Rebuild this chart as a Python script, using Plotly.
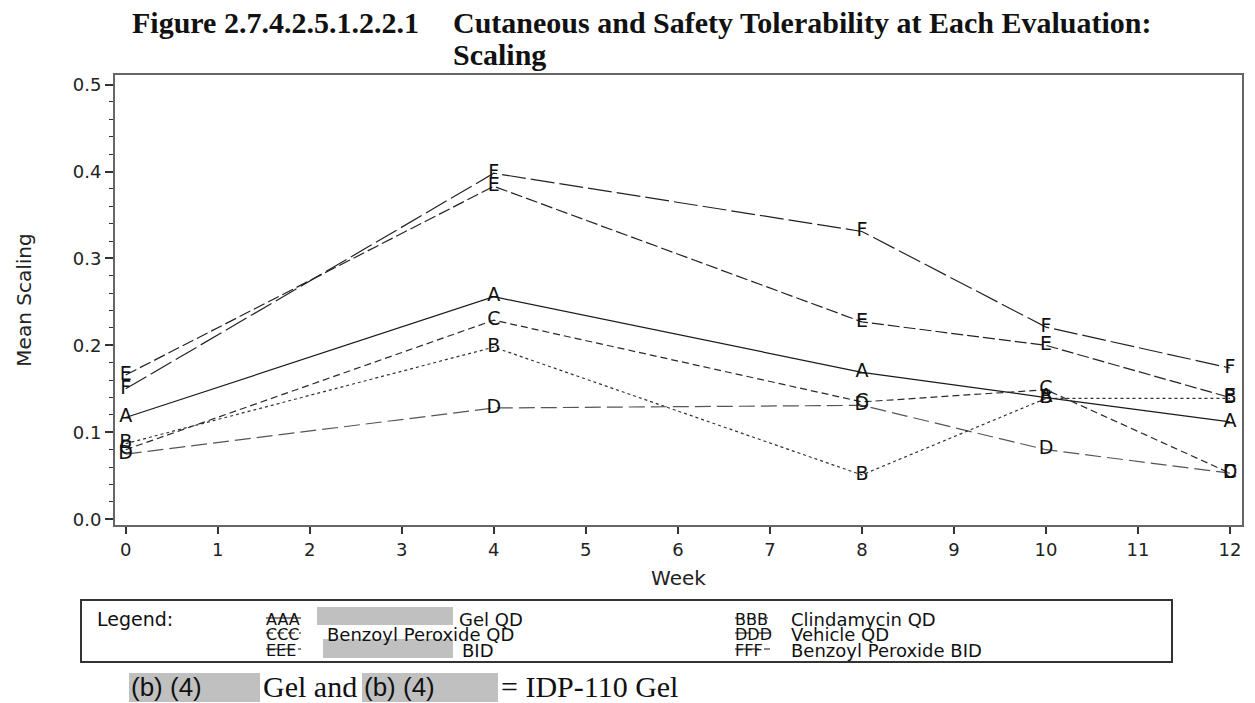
import plotly.graph_objects as go

# ---------------- data ----------------
weeks = [0, 4, 8, 10, 12]
series_names = ["A", "B", "C", "D", "E", "F"]
series_A = [0.117, 0.256, 0.169, 0.140, 0.112]
series_B = [0.087, 0.198, 0.051, 0.139, 0.139]
series_C = [0.080, 0.229, 0.135, 0.149, 0.053]
series_D = [0.075, 0.128, 0.131, 0.080, 0.053]
series_E = [0.166, 0.383, 0.227, 0.200, 0.140]
series_F = [0.150, 0.398, 0.331, 0.221, 0.174]
y_ticks = [0.0, 0.1, 0.2, 0.3, 0.4, 0.5]
x_ticks = list(range(0, 13))

legend_left = [("AAA", "Gel QD"), ("CCC", "Benzoyl Peroxide QD"), ("EEE", "BID")]
legend_right = [("BBB", "Clindamycin QD"), ("DDD", "Vehicle QD"), ("FFF", "Benzoyl Peroxide BID")]

# ---------------- styles ----------------
W, H = 1255, 703
ML, MR, MT, MB = 115, 13, 75, 178
PW, PH = W - ML - MR, H - MT - MB

def px(x):
    return (x - ML) / PW

def py(y):
    return (H - MB - y) / PH

dashes = {
    "A": "solid",
    "B": "3px,3px",
    "C": "7px,4px",
    "D": "16px,6px",
    "E": "12px,4px",
    "F": "24px,5px",
}
colors = {"A": "#1a1a1a", "B": "#333333", "C": "#2a2a2a", "D": "#555555", "E": "#222222", "F": "#222222"}

data = {"A": series_A, "B": series_B, "C": series_C, "D": series_D, "E": series_E, "F": series_F}
draw_order = ["A", "C", "E", "F", "D", "B"]

CHART_FONT = "DejaVu Sans"

fig = go.Figure()
for name in draw_order:
    vals = data[name]
    fig.add_trace(go.Scatter(
        x=weeks, y=vals, mode="lines+text",
        text=[name] * len(vals), textposition="middle center",
        textfont=dict(family=CHART_FONT, size=19, color="#111111"),
        line=dict(color=colors[name], width=1.2, dash=dashes[name]),
        name=name, showlegend=False, cliponaxis=False,
    ))

fig.update_layout(
    width=W, height=H,
    margin=dict(l=ML, r=MR, t=MT, b=MB, pad=0),
    paper_bgcolor="white", plot_bgcolor="white",
    font=dict(family=CHART_FONT, size=18, color="#222222"),
    xaxis=dict(
        range=[-0.116, 12.13], tickvals=x_ticks, ticktext=[str(v) for v in x_ticks],
        showgrid=False, zeroline=False, showline=True, mirror=True,
        linecolor="#666666", linewidth=2, ticks="outside", ticklen=7, tickwidth=1.5,
        tickcolor="#333333", tickfont=dict(family=CHART_FONT, size=18, color="#222222"),
        title=dict(text="Week", font=dict(family=CHART_FONT, size=20, color="#222222"), standoff=12),
    ),
    yaxis=dict(
        range=[-0.0066, 0.511], tickvals=y_ticks, ticktext=["%.1f" % v for v in y_ticks],
        showgrid=False, zeroline=False, showline=True, mirror=True,
        linecolor="#666666", linewidth=2, ticks="outside", ticklen=8, tickwidth=1.5,
        tickcolor="#333333", tickfont=dict(family=CHART_FONT, size=18, color="#222222"),
        minor=dict(dtick=0.02, ticks="outside", ticklen=4, tickcolor="#333333", tickwidth=1.2, showgrid=False),
        title=dict(text="Mean Scaling", font=dict(family=CHART_FONT, size=20, color="#222222"), standoff=36),
    ),
)

shapes = []
annotations = []

# ---- title ----
TFONT = dict(family="Liberation Serif", size=30, color="#111111")
annotations.append(dict(x=px(130), y=py(23), xref="paper", yref="paper", xanchor="left", yanchor="middle",
                        text="<b>Figure 2.7.4.2.5.1.2.2.1</b>", showarrow=False, font=TFONT))
annotations.append(dict(x=px(451), y=py(23), xref="paper", yref="paper", xanchor="left", yanchor="middle",
                        text="<b>Cutaneous and Safety Tolerability at Each Evaluation:</b>", showarrow=False, font=TFONT))
annotations.append(dict(x=px(451), y=py(54), xref="paper", yref="paper", xanchor="left", yanchor="middle",
                        text="<b>Scaling</b>", showarrow=False, font=TFONT))

# ---- legend box ----
shapes.append(dict(type="rect", xref="paper", yref="paper", x0=px(81), x1=px(1172), y0=py(600), y1=py(662),
                   line=dict(color="#333333", width=2), fillcolor="rgba(0,0,0,0)"))
LFONT = dict(family=CHART_FONT, size=18, color="#111111")
annotations.append(dict(x=px(95), y=py(619), xref="paper", yref="paper", xanchor="left", yanchor="middle",
                        text="Legend:", showarrow=False, font=dict(family=CHART_FONT, size=19, color="#111111")))
row_y = [619, 634, 650]
# redaction boxes in legend
shapes.append(dict(type="rect", xref="paper", yref="paper", x0=px(317), x1=px(453), y0=py(607), y1=py(625),
                   line=dict(width=0), fillcolor="#c0c0c0", layer="below"))
shapes.append(dict(type="rect", xref="paper", yref="paper", x0=px(323), x1=px(453), y0=py(639), y1=py(658),
                   line=dict(width=0), fillcolor="#c0c0c0", layer="below"))
left_label_x = [457, 325, 460]
for i, (sym, lab) in enumerate(legend_left):
    annotations.append(dict(x=px(264), y=py(row_y[i]), xref="paper", yref="paper", xanchor="left", yanchor="middle",
                            text=sym, showarrow=False, font=dict(family=CHART_FONT, size=16, color="#111111")))
    annotations.append(dict(x=px(left_label_x[i]), y=py(row_y[i]), xref="paper", yref="paper", xanchor="left",
                            yanchor="middle", text=lab, showarrow=False, font=LFONT))
    shapes.append(dict(type="line", xref="paper", yref="paper", x0=px(266), x1=px(301),
                       y0=py(row_y[i] - 1), y1=py(row_y[i] - 1),
                       line=dict(color="#111111", width=1.2, dash=dashes[sym[0]])))
for i, (sym, lab) in enumerate(legend_right):
    annotations.append(dict(x=px(733), y=py(row_y[i]), xref="paper", yref="paper", xanchor="left", yanchor="middle",
                            text=sym, showarrow=False, font=dict(family=CHART_FONT, size=16, color="#111111")))
    annotations.append(dict(x=px(789), y=py(row_y[i]), xref="paper", yref="paper", xanchor="left",
                            yanchor="middle", text=lab, showarrow=False, font=LFONT))
    shapes.append(dict(type="line", xref="paper", yref="paper", x0=px(735), x1=px(770),
                       y0=py(row_y[i] - 1), y1=py(row_y[i] - 1),
                       line=dict(color="#111111", width=1.2, dash=dashes[sym[0]])))

# ---- footnote ----
shapes.append(dict(type="rect", xref="paper", yref="paper", x0=px(129), x1=px(260), y0=py(673), y1=py(702),
                   line=dict(width=0), fillcolor="#c0c0c0", layer="below"))
shapes.append(dict(type="rect", xref="paper", yref="paper", x0=px(362), x1=px(498), y0=py(673), y1=py(702),
                   line=dict(width=0), fillcolor="#c0c0c0", layer="below"))
BFONT = dict(family="Liberation Sans", size=26, color="#111111")
SFONT = dict(family="Liberation Serif", size=30, color="#111111")
annotations.append(dict(x=px(129), y=py(687), xref="paper", yref="paper", xanchor="left", yanchor="middle",
                        text="(b) (4)", showarrow=False, font=BFONT))
annotations.append(dict(x=px(261), y=py(686), xref="paper", yref="paper", xanchor="left", yanchor="middle",
                        text="Gel and", showarrow=False, font=SFONT))
annotations.append(dict(x=px(362), y=py(687), xref="paper", yref="paper", xanchor="left", yanchor="middle",
                        text="(b) (4)", showarrow=False, font=BFONT))
annotations.append(dict(x=px(499), y=py(686), xref="paper", yref="paper", xanchor="left", yanchor="middle",
                        text="= IDP-110 Gel", showarrow=False, font=SFONT))

fig.update_layout(shapes=shapes, annotations=annotations)
fig.write_html("out.html")
